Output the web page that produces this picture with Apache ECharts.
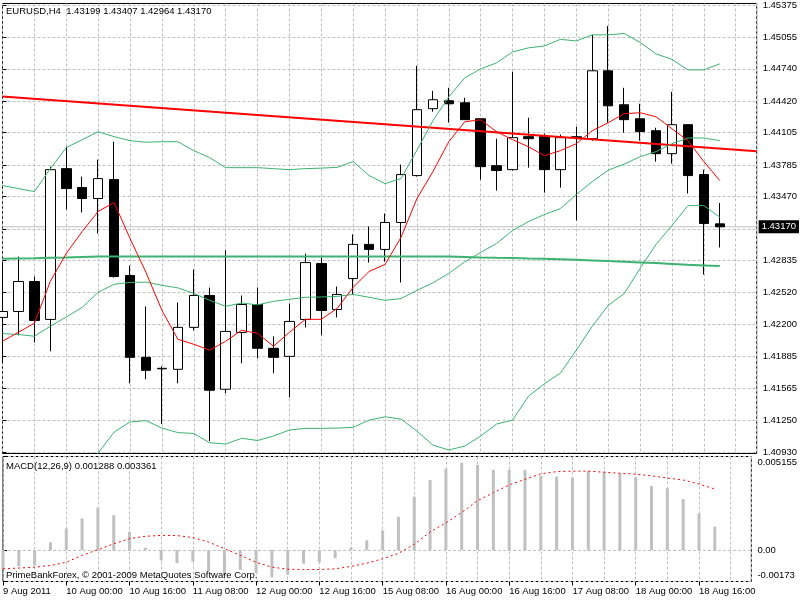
<!DOCTYPE html>
<html>
<head>
<meta charset="utf-8">
<title>EURUSD H4</title>
<script src="https://cdn.jsdelivr.net/npm/echarts@6/dist/echarts.min.js"></script>
<style>
    html, body { margin: 0; padding: 0; background: #ffffff; }
    #main_chart { width: 800px; height: 600px; }
</style>
</head>
<body>
<div id="main_chart"></div>
<script>
    var symbolName = 'EURUSD,H4';
    // one label every 4 bars (16 hours)
    var timeLabels = ['9 Aug 2011', '10 Aug 00:00', '10 Aug 16:00', '11 Aug 08:00', '12 Aug 00:00', '12 Aug 16:00',
        '15 Aug 08:00', '16 Aug 00:00', '16 Aug 16:00', '17 Aug 08:00', '18 Aug 00:00', '18 Aug 16:00'];
    var labelBars = [0, 4, 8, 12, 16, 20, 24, 28, 32, 36, 40, 44];

    var openPrices = [1.42269, 1.42328, 1.42626, 1.42249, 1.43748, 1.43560, 1.43451, 1.43639, 1.42685, 1.41872,
        1.41758, 1.41753, 1.42170, 1.42487, 1.41555, 1.42120, 1.42397, 1.41962, 1.41882, 1.42249,
        1.42804, 1.42348, 1.42655, 1.42995, 1.42945, 1.43213, 1.43679, 1.44344, 1.44423, 1.44403,
        1.44244, 1.43778, 1.43738, 1.44066, 1.44066, 1.43738, 1.44056, 1.44046, 1.44721, 1.44383,
        1.44244, 1.44125, 1.43897, 1.44185, 1.43689, 1.43199];
    var highPrices = [1.42814, 1.42874, 1.42675, 1.43768, 1.43967, 1.43669, 1.43838, 1.44016, 1.42784, 1.42378,
        1.41783, 1.42417, 1.42745, 1.42566, 1.42935, 1.42487, 1.42566, 1.42081, 1.42407, 1.42903,
        1.42864, 1.42576, 1.43094, 1.43173, 1.43302, 1.43788, 1.44770, 1.44522, 1.44552, 1.44453,
        1.44244, 1.44046, 1.44711, 1.44254, 1.44096, 1.44086, 1.44165, 1.45078, 1.45167, 1.44552,
        1.44393, 1.44155, 1.44512, 1.44185, 1.43738, 1.43407];
    var lowPrices = [1.41823, 1.42091, 1.42021, 1.41932, 1.43342, 1.43312, 1.43104, 1.42665, 1.41614, 1.41654,
        1.41209, 1.41614, 1.42140, 1.41040, 1.41515, 1.41813, 1.41862, 1.41714, 1.41475, 1.42170,
        1.42091, 1.42269, 1.42497, 1.42814, 1.42824, 1.42616, 1.43669, 1.44314, 1.44205, 1.44235,
        1.43639, 1.43530, 1.43729, 1.43758, 1.43510, 1.43560, 1.43233, 1.44026, 1.44205, 1.44106,
        1.44026, 1.43818, 1.43798, 1.43501, 1.42695, 1.42964];
    var closePrices = [1.42328, 1.42626, 1.42239, 1.43738, 1.43550, 1.43451, 1.43649, 1.42675, 1.41872, 1.41743,
        1.41763, 1.42170, 1.42487, 1.41545, 1.42130, 1.42397, 1.41962, 1.41872, 1.42229, 1.42814,
        1.42338, 1.42497, 1.42995, 1.42945, 1.43213, 1.43689, 1.44334, 1.44433, 1.44393, 1.44235,
        1.43768, 1.43729, 1.44056, 1.44046, 1.43738, 1.44056, 1.44066, 1.44721, 1.44373, 1.44235,
        1.44116, 1.43897, 1.44185, 1.43679, 1.43203, 1.43170];

    var maFast = [1.42032, 1.42121, 1.42211, 1.42627, 1.42905, 1.43123, 1.43322, 1.43411, 1.43054, 1.42717,
        1.42340, 1.42052, 1.42002, 1.41943, 1.42032, 1.42141, 1.42111, 1.41982, 1.42121, 1.42250,
        1.42250, 1.42359, 1.42568, 1.42726, 1.42796, 1.43064, 1.43451, 1.43718, 1.44016, 1.44214,
        1.44234, 1.44115, 1.44036, 1.43966, 1.43877, 1.43927, 1.43996, 1.44125, 1.44205, 1.44294,
        1.44304, 1.44264, 1.44145, 1.44026, 1.43818, 1.43629];
    var maSlow = [1.42852, 1.42855, 1.42857, 1.42862, 1.42865, 1.42870, 1.42875, 1.42875, 1.42875, 1.42875,
        1.42875, 1.42875, 1.42875, 1.42875, 1.42875, 1.42875, 1.42875, 1.42875, 1.42875, 1.42875,
        1.42875, 1.42875, 1.42875, 1.42875, 1.42875, 1.42875, 1.42875, 1.42875, 1.42875, 1.42870,
        1.42865, 1.42862, 1.42860, 1.42855, 1.42852, 1.42848, 1.42843, 1.42836, 1.42829, 1.42823,
        1.42816, 1.42809, 1.42801, 1.42793, 1.42786, 1.42779];
    var bandUpper = [1.43580, 1.43550, 1.43520, 1.43748, 1.43957, 1.44036, 1.44115, 1.44066, 1.44026, 1.44011,
        1.44016, 1.44016, 1.43927, 1.43857, 1.43758, 1.43758, 1.43758, 1.43748, 1.43738, 1.43748,
        1.43753, 1.43761, 1.43818, 1.43679, 1.43599, 1.43649, 1.43932, 1.44224, 1.44462, 1.44651,
        1.44740, 1.44800, 1.44909, 1.44949, 1.44968, 1.45033, 1.45018, 1.45078, 1.45078, 1.45092,
        1.45003, 1.44889, 1.44834, 1.44730, 1.44730, 1.44790];
    var bandMiddle = [1.42108, 1.42099, 1.42082, 1.42181, 1.42273, 1.42369, 1.42518, 1.42598, 1.42617, 1.42620,
        1.42588, 1.42563, 1.42508, 1.42439, 1.42379, 1.42412, 1.42394, 1.42429, 1.42449, 1.42469,
        1.42472, 1.42478, 1.42498, 1.42469, 1.42439, 1.42456, 1.42538, 1.42612, 1.42707, 1.42821,
        1.42915, 1.43004, 1.43133, 1.43222, 1.43292, 1.43351, 1.43490, 1.43619, 1.43733, 1.43793,
        1.43867, 1.43917, 1.43996, 1.44053, 1.44053, 1.44026];
    var bandLower = [1.40637, 1.40647, 1.40643, 1.40594, 1.40587, 1.40723, 1.40921, 1.41129, 1.41229, 1.41243,
        1.41169, 1.41124, 1.41115, 1.41023, 1.41010, 1.41067, 1.41045, 1.41090, 1.41149, 1.41166,
        1.41166, 1.41169, 1.41176, 1.41248, 1.41281, 1.41258, 1.41139, 1.41000, 1.40951, 1.40990,
        1.41090, 1.41209, 1.41248, 1.41486, 1.41610, 1.41715, 1.41943, 1.42181, 1.42389, 1.42505,
        1.42756, 1.42994, 1.43183, 1.43381, 1.43381, 1.43265];

    // trend line drawn across the whole window
    var trendLine = [1.44465, 1.43922];

    var macdHist = [-0.00103, -0.00090, -0.00085, 0.00043, 0.00119, 0.00174, 0.00233, 0.00192, 0.00100, 0.00013,
        -0.00057, -0.00072, -0.00063, -0.00116, -0.00140, -0.00109, -0.00127, -0.00150, -0.00135, -0.00075,
        -0.00067, -0.00044, 0.00015, 0.00054, 0.00109, 0.00183, 0.00294, 0.00386, 0.00447, 0.00482,
        0.00469, 0.00442, 0.00442, 0.00442, 0.00410, 0.00405, 0.00399, 0.00436, 0.00432, 0.00423,
        0.00401, 0.00353, 0.00340, 0.00281, 0.00202, 0.001288];
    var macdSignal = [-0.00103, -0.00099, -0.00094, -0.00085, -0.00067, -0.00029, 0.00002, 0.00035, 0.00063, 0.00076,
        0.00081, 0.00080, 0.00069, 0.00044, 0.00008, -0.00029, -0.00067, -0.00094, -0.00105, -0.00107,
        -0.00107, -0.00103, -0.00090, -0.00072, -0.00048, -0.00018, 0.00032, 0.00100, 0.00150, 0.00207,
        0.00272, 0.00316, 0.00359, 0.00390, 0.00420, 0.00432, 0.00435, 0.00435, 0.00429, 0.00423,
        0.00418, 0.00409, 0.00397, 0.00386, 0.00364, 0.003361];

    var priceLevels = [1.40930, 1.41250, 1.41565, 1.41885, 1.42200, 1.42520, 1.42835, 1.43150,
        1.43470, 1.43785, 1.44105, 1.44420, 1.44740, 1.45055, 1.45375];
    var priceLabelLevels = [1.40930, 1.41250, 1.41565, 1.41885, 1.42200, 1.42520, 1.42835,
        1.43470, 1.43785, 1.44105, 1.44420, 1.44740, 1.45055, 1.45375];
    var macdLevels = [-0.00173, 0, 0.005155];

    var lastBar = openPrices.length - 1;
    var xMax = 47.3125;
    var fontName = 'Liberation Sans';
    var green = '#3cb371';

    function toPoints(arr) {
        return arr.map(function (v, i) { return [i, v]; });
    }

    var candles = openPrices.map(function (o, i) {
        return [i, o, closePrices[i], lowPrices[i], highPrices[i]];
    });

    var headText = symbolName + '  ' + openPrices[lastBar].toFixed(5) + ' ' + highPrices[lastBar].toFixed(5) + ' ' +
        lowPrices[lastBar].toFixed(5) + ' ' + closePrices[lastBar].toFixed(5);
    var macdText = 'MACD(12,26,9) ' + macdHist[lastBar].toFixed(6) + ' ' + macdSignal[lastBar].toFixed(6);

    var gridLine = { show: true, lineStyle: { color: '#c0c0c0', type: [3, 2], width: 1 } };

    var myChart = echarts.init(document.getElementById('main_chart'));
    var option = {
        animation: false,
        backgroundColor: '#ffffff',
        textStyle: { fontFamily: fontName, fontSize: 9.5, color: '#000' },
        title: [
            { text: headText, left: 6, top: 6, padding: 0,
              textStyle: { fontFamily: fontName, fontSize: 9.5, fontWeight: 'normal', color: '#000' } },
            { text: macdText, left: 6, top: 461, padding: 0,
              textStyle: { fontFamily: fontName, fontSize: 9.5, fontWeight: 'normal', color: '#000' } },
            { text: 'PrimeBankForex, © 2001-2009 MetaQuotes Software Corp.', left: 6, top: 570, padding: 0,
              textStyle: { fontFamily: fontName, fontSize: 9.5, fontWeight: 'normal', color: '#000' } }
        ],
        grid: [
            { left: 2.5, top: 2.5, width: 757, height: 451, show: true, borderColor: '#000', borderWidth: 1, backgroundColor: 'transparent' },
            { left: 2.5, top: 456.5, width: 757, height: 125, show: true, borderColor: '#000', borderWidth: 1, backgroundColor: 'transparent' }
        ],
        xAxis: [
            { type: 'value', gridIndex: 0, min: 0, max: xMax, interval: 2,
              axisLine: { show: false }, axisTick: { show: false }, axisLabel: { show: false }, splitLine: gridLine },
            { type: 'value', gridIndex: 1, min: 0, max: xMax, interval: 2,
              axisLine: { show: false }, axisTick: { show: false }, axisLabel: { show: false }, splitLine: gridLine },
            { type: 'value', gridIndex: 1, min: 0, max: xMax, position: 'bottom',
              axisLine: { show: false }, splitLine: { show: false },
              axisTick: { show: true, inside: false, length: 4, customValues: labelBars, lineStyle: { color: '#000' } },
              axisLabel: { show: true, customValues: labelBars, align: 'left', margin: 5, color: '#000',
                  fontFamily: fontName, fontSize: 9.5,
                  formatter: function (v) { return timeLabels[Math.round(v / 4)] || ''; } } }
        ],
        yAxis: [
            { type: 'value', gridIndex: 0, position: 'right', min: 1.40916, max: 1.45390, scale: true,
              axisLine: { show: false },
              axisTick: { show: true, length: 4, customValues: priceLevels, lineStyle: { color: '#000' } },
              axisLabel: { show: true, customValues: priceLabelLevels, margin: 6, color: '#000',
                  fontFamily: fontName, fontSize: 9.5,
                  formatter: function (v) { return v.toFixed(5); } },
              splitLine: gridLine },
            { type: 'value', gridIndex: 1, position: 'right', min: -0.00173, max: 0.005155,
              axisLine: { show: false },
              axisTick: { show: true, length: 4, customValues: macdLevels, lineStyle: { color: '#000' } },
              axisLabel: { show: true, customValues: macdLevels, margin: 6, color: '#000',
                  fontFamily: fontName, fontSize: 9.5,
                  formatter: function (v) {
                      if (v > 0) return '{top|' + v.toFixed(6) + '}';
                      if (v < 0) return '{bot|' + v.toFixed(5) + '}';
                      return '0.00';
                  },
                  rich: {
                      top: { fontFamily: fontName, fontSize: 9.5, color: '#000', padding: [12, 0, 0, 0] },
                      bot: { fontFamily: fontName, fontSize: 9.5, color: '#000', padding: [0, 0, 12, 0] }
                  } },
              splitLine: gridLine }
        ],
        series: [
            {
                name: 'EURUSD', type: 'candlestick', xAxisIndex: 0, yAxisIndex: 0,
                data: candles, encode: { x: 0, y: [1, 2, 3, 4] }, barWidth: 10,
                itemStyle: { color: '#ffffff', color0: '#000000', borderColor: '#000000', borderColor0: '#000000', borderWidth: 1 }
            },
            { name: 'Bid', type: 'line', xAxisIndex: 0, yAxisIndex: 0, symbol: 'none',
              data: [[0, closePrices[lastBar]], [xMax, closePrices[lastBar]]],
              lineStyle: { color: '#c0c0c0', width: 1 }, z: 1,
              endLabel: { show: true, distance: 2, color: '#fff', backgroundColor: '#000',
                  padding: [2, 3, 1, 3], fontFamily: fontName, fontSize: 9.5,
                  formatter: function () { return closePrices[lastBar].toFixed(5); } } },
            { name: 'Trend', type: 'line', xAxisIndex: 0, yAxisIndex: 0, symbol: 'none',
              data: [[0, trendLine[0]], [xMax, trendLine[1]]], lineStyle: { color: '#ff0000', width: 2 } },
            { name: 'MA slow', type: 'line', xAxisIndex: 0, yAxisIndex: 0, symbol: 'none',
              data: toPoints(maSlow), lineStyle: { color: green, width: 2 } },
            { name: 'BB upper', type: 'line', xAxisIndex: 0, yAxisIndex: 0, symbol: 'none',
              data: toPoints(bandUpper), lineStyle: { color: green, width: 1 } },
            { name: 'BB middle', type: 'line', xAxisIndex: 0, yAxisIndex: 0, symbol: 'none',
              data: toPoints(bandMiddle), lineStyle: { color: green, width: 1 } },
            { name: 'BB lower', type: 'line', xAxisIndex: 0, yAxisIndex: 0, symbol: 'none',
              data: toPoints(bandLower), lineStyle: { color: green, width: 1 } },
            { name: 'MA fast', type: 'line', xAxisIndex: 0, yAxisIndex: 0, symbol: 'none',
              data: toPoints(maFast), lineStyle: { color: '#ff0000', width: 1 } },
            { name: 'MACD', type: 'bar', xAxisIndex: 1, yAxisIndex: 1, barWidth: 3,
              data: toPoints(macdHist), itemStyle: { color: '#c0c0c0' } },
            { name: 'Signal', type: 'line', xAxisIndex: 1, yAxisIndex: 1, symbol: 'none',
              data: toPoints(macdSignal), lineStyle: { color: '#ff0000', width: 1, type: [2, 3] } }
        ]
    };

    myChart.setOption(option);
</script>
</body>
</html>
